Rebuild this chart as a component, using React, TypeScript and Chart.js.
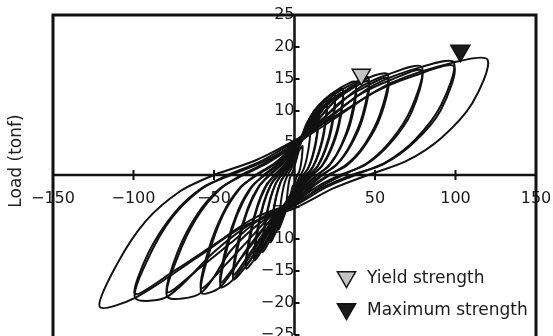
import React, { useEffect, useRef } from "react";
import { Chart, registerables } from "chart.js";

Chart.register(...registerables);

// ---- data (displacement mm, load tonf) ----
const xTickValues = [-150, -100, -50, 0, 50, 100, 150];
const yTickValues = [-25, -20, -15, -10, -5, 0, 5, 10, 15, 20, 25];

const loop05 = [[-2.1,0],[-1,0.6],[0,1.4],[1.3,2.5],[2.5,3.6],[3.8,4.2],[5,4.5],[4.6,2.8],[3.8,1.4],[2.9,0.5],[1.9,0],[1,-0.5],[0,-1.3],[-1.3,-1.9],[-2.5,-3.1],[-3.8,-4.2],[-5,-5],[-4.6,-3.4],[-3.9,-1.8],[-3,-0.6],[-2.1,0]];
const loop10 = [[-4.2,0],[-2,1],[0,2.4],[2.5,4.4],[5,6.4],[7.5,7.5],[10,8],[9.2,5],[7.6,2.6],[5.8,1],[3.8,0],[2,-0.9],[0,-2.1],[-2.5,-3.2],[-5,-5.3],[-7.5,-7.1],[-10,-8.5],[-9.2,-5.8],[-7.7,-3],[-5.9,-1],[-4.2,0]];
const loop15a = [[-6.3,0],[-3,1.3],[0,3],[3.8,5.5],[7.5,8],[11.3,9.4],[15,10],[13.8,6.2],[11.4,3.2],[8.7,1.2],[5.7,0],[3,-1.1],[0,-2.6],[-3.8,-4],[-7.5,-6.5],[-11.3,-8.8],[-15,-10.5],[-13.8,-7.1],[-11.6,-3.7],[-8.9,-1.3],[-6.3,0]];
const loop15b = [[-6,0],[-3,1.1],[0,2.7],[3.8,4.9],[7.5,7.2],[11.3,8.6],[15,9.5],[13.8,5.7],[11.3,2.9],[8.4,1],[5.4,0],[2.7,-1],[0,-2.3],[-3.8,-3.6],[-7.5,-5.8],[-11.3,-8],[-15,-10],[-13.8,-6.6],[-11.4,-3.3],[-8.7,-1.1],[-6,0]];
const loop20a = [[-8.4,0],[-4,1.5],[0,3.5],[5,6.3],[10,9.2],[15,10.8],[20,11.5],[18.4,7.1],[15.2,3.7],[11.6,1.4],[7.6,0],[4,-1.2],[0,-3],[-5,-4.6],[-10,-7.4],[-15,-10.1],[-20,-12],[-18.4,-8.2],[-15.4,-4.2],[-11.8,-1.4],[-8.4,0]];
const loop20b = [[-8,0],[-4,1.3],[0,3.1],[5,5.7],[10,8.4],[15,10],[20,11],[18.4,6.6],[15,3.3],[11.2,1.1],[7.2,0],[3.6,-1.2],[0,-2.6],[-5,-4.1],[-10,-6.7],[-15,-9.2],[-20,-11.5],[-18.4,-7.6],[-15.2,-3.8],[-11.6,-1.3],[-8,0]];
const loop25a = [[-10.5,0],[-5,1.6],[0,3.8],[6.3,6.9],[12.5,10.1],[18.8,11.8],[25,12.6],[23,7.8],[19,4],[14.5,1.5],[9.5,0],[5,-1.3],[0,-3.3],[-6.3,-5.1],[-12.5,-8.2],[-18.8,-11.2],[-25,-13.3],[-23,-9],[-19.3,-4.7],[-14.8,-1.6],[-10.5,0]];
const loop25b = [[-10,0],[-5,1.4],[0,3.4],[6.3,6.2],[12.5,9.1],[18.8,10.9],[25,12],[23,7.2],[18.8,3.6],[14,1.2],[9,0],[4.5,-1.3],[0,-2.9],[-6.3,-4.6],[-12.5,-7.4],[-18.8,-10.2],[-25,-12.7],[-23,-8.4],[-19,-4.2],[-14.5,-1.4],[-10,0]];
const loop30a = [[-12.6,0],[-6,1.7],[0,4],[7.5,7.4],[15,10.7],[22.5,12.6],[30,13.4],[27.6,8.3],[22.8,4.3],[17.4,1.6],[11.4,0],[6,-1.5],[0,-3.7],[-7.5,-5.5],[-15,-9.1],[-22.5,-12.3],[-30,-14.6],[-27.6,-9.9],[-23.1,-5.1],[-17.7,-1.8],[-12.6,0]];
const loop30b = [[-12,0],[-6,1.5],[0,3.6],[7.5,6.7],[15,9.7],[22.5,11.6],[30,12.8],[27.6,7.7],[22.5,3.8],[16.8,1.3],[10.8,0],[5.4,-1.4],[0,-3.2],[-7.5,-5],[-15,-8.1],[-22.5,-11.2],[-30,-14],[-27.6,-9.2],[-22.8,-4.6],[-17.4,-1.5],[-12,0]];
const loop38a = [[-16,0],[-7.6,1.9],[0,4.4],[9.5,8],[19,11.6],[28.5,13.6],[38,14.5],[35,9],[28.9,4.6],[22,1.7],[14.4,0],[7.6,-1.6],[0,-4.1],[-9.5,-6.2],[-19,-10.1],[-28.5,-13.7],[-38,-16.3],[-35,-11.1],[-29.3,-5.7],[-22.4,-2],[-16,0]];
const loop38b = [[-15.2,0],[-7.6,1.7],[0,3.9],[9.5,7.2],[19,10.6],[28.5,12.6],[38,13.9],[35,8.3],[28.5,4.2],[21.3,1.4],[13.7,0],[6.8,-1.6],[0,-3.6],[-9.5,-5.6],[-19,-9],[-28.5,-12.5],[-38,-15.6],[-35,-10.3],[-28.9,-5.1],[-22,-1.7],[-15.2,0]];
const loop46a = [[-19.3,0],[-9.2,2],[0,4.6],[11.5,8.4],[23,12.2],[38,14.5],[46,15.2],[42.3,9.4],[35,4.9],[26.7,1.8],[17.5,0],[9.2,-1.8],[0,-4.4],[-11.5,-6.7],[-23,-10.9],[-38,-16.3],[-46,-17.5],[-42.3,-11.9],[-35.4,-6.1],[-27.1,-2.1],[-19.3,0]];
const loop46b = [[-18.4,0],[-9.2,1.8],[0,4.1],[11.5,7.6],[23,11.1],[34.5,13.3],[46,14.6],[42.3,8.8],[34.5,4.4],[25.8,1.5],[16.6,0],[8.3,-1.7],[0,-3.9],[-11.5,-6],[-23,-9.7],[-34.5,-13.4],[-46,-16.8],[-42.3,-11.1],[-35,-5.5],[-26.7,-1.8],[-18.4,0]];
const loop58a = [[-24.4,0],[-11.6,2],[0,4.7],[14.5,8.6],[29,12.6],[46,15.2],[58,15.7],[53.4,9.7],[44.1,5],[33.6,1.9],[22,0],[11.6,-1.8],[0,-4.6],[-14.5,-7],[-29,-11.4],[-46,-17.5],[-58,-18.4],[-53.4,-12.5],[-44.7,-6.4],[-34.2,-2.2],[-24.4,0]];
const loop58b = [[-23.2,0],[-11.6,1.8],[0,4.2],[14.5,7.9],[29,11.5],[43.5,13.7],[58,15.1],[53.4,9.1],[43.5,4.5],[32.5,1.5],[20.9,0],[10.4,-1.8],[0,-4.1],[-14.5,-6.4],[-29,-10.3],[-43.5,-14.2],[-58,-17.7],[-53.4,-11.7],[-44.1,-5.8],[-33.6,-1.9],[-23.2,0]];
const loop79a = [[-33.2,0],[-15.8,2.2],[0,5.1],[19.8,9.3],[39.5,13.5],[58,15.7],[79,16.9],[72.7,10.5],[60,5.4],[45.8,2],[30,0],[15.8,-1.9],[0,-4.8],[-19.8,-7.2],[-39.5,-11.8],[-58,-18.4],[-79,-19],[-72.7,-12.9],[-60.8,-6.7],[-46.6,-2.3],[-33.2,0]];
const loop79b = [[-31.6,0],[-15.8,2],[0,4.6],[19.8,8.5],[39.5,12.4],[59.3,14.8],[79,16.3],[72.7,9.8],[59.3,4.9],[44.2,1.6],[28.4,0],[14.2,-1.8],[0,-4.2],[-19.8,-6.6],[-39.5,-10.6],[-59.3,-14.6],[-79,-18.3],[-72.7,-12.1],[-60,-6],[-45.8,-2],[-31.6,0]];
const loop99a = [[-41.6,0],[-19.8,2.3],[0,5.3],[24.8,9.7],[49.5,14.1],[79,16.9],[99,17.6],[91,10.9],[75.2,5.6],[57.4,2.1],[37.6,0],[19.8,-1.9],[0,-4.8],[-24.8,-7.3],[-49.5,-11.9],[-79,-19],[-99,-19.2],[-91,-13.1],[-76.2,-6.7],[-58.4,-2.3],[-41.6,0]];
const loop99b = [[-39.6,0],[-19.8,2],[0,4.8],[24.8,8.8],[49.5,12.9],[74.3,15.5],[99,17],[91,10.2],[74.3,5.1],[55.4,1.7],[35.6,0],[17.8,-1.9],[0,-4.3],[-24.8,-6.7],[-49.5,-10.8],[-74.3,-14.9],[-99,-18.6],[-91,-12.3],[-75.2,-6.1],[-57.4,-2],[-39.6,0]];
const loop120 = [[-50.4,0],[-24,2.3],[0,5.4],[30,9.9],[60,14.4],[99,17.6],[120,18],[110.4,11.2],[91.2,5.8],[69.6,2.2],[45.6,0],[24,-2.1],[0,-5.2],[-30,-7.8],[-60,-12.8],[-99,-19.2],[-121,-20.6],[-110.4,-14],[-92.4,-7.2],[-70.8,-2.5],[-50.4,0]];

const loops = [loop05, loop10, loop15a, loop15b, loop20a, loop20b, loop25a, loop25b, loop30a, loop30b, loop38a, loop38b, loop46a, loop46b, loop58a, loop58b, loop79a, loop79b, loop99a, loop99b, loop120];

const yieldPoint = [41.5, 15.7];
const maxPoint = [103, 19.4];
const markerLabels = ["Yield strength", "Maximum strength"];
const markerFills = ["#c4c4c4", "#1a1a1a"];

const FONT = "'DejaVu Sans', sans-serif";

function fmtTick(v: number): string {
  if (v === 0) return "";
  return v < 0 ? "\u2212" + Math.abs(v) : String(v);
}

function tri(ctx: CanvasRenderingContext2D, cx: number, cy: number, r: number, fill: string) {
  ctx.beginPath();
  ctx.moveTo(cx - r * 0.866, cy - r / 2);
  ctx.lineTo(cx + r * 0.866, cy - r / 2);
  ctx.lineTo(cx, cy + r);
  ctx.closePath();
  ctx.fillStyle = fill;
  ctx.fill();
  ctx.lineWidth = 1.5;
  ctx.strokeStyle = "#111";
  ctx.stroke();
}

const framePlugin = {
  id: "framePlugin",
  beforeDatasetsDraw(chart: any) {
    const { ctx, chartArea: a, scales } = chart;
    const x0 = scales.x.getPixelForValue(0);
    const y0 = scales.y.getPixelForValue(0);
    ctx.save();
    ctx.strokeStyle = "#111";
    ctx.lineWidth = 2.5;
    ctx.beginPath();
    ctx.moveTo(a.left, y0);
    ctx.lineTo(a.right, y0);
    ctx.moveTo(x0, a.top);
    ctx.lineTo(x0, a.bottom);
    ctx.stroke();
    ctx.lineWidth = 2;
    ctx.beginPath();
    for (const v of xTickValues) {
      if (v === 0) continue;
      const px = scales.x.getPixelForValue(v);
      ctx.moveTo(px, y0 - 5);
      ctx.lineTo(px, y0 + 5);
    }
    for (const v of yTickValues) {
      if (v === 0) continue;
      const py = scales.y.getPixelForValue(v);
      ctx.moveTo(x0, py);
      ctx.lineTo(x0 + 5, py);
    }
    ctx.stroke();
    ctx.restore();
  },
  afterDraw(chart: any) {
    const { ctx, chartArea: a } = chart;
    ctx.save();
    ctx.strokeStyle = "#111";
    ctx.lineWidth = 3;
    ctx.strokeRect(a.left, a.top, a.right - a.left, a.bottom - a.top + 4);
    // y axis title
    ctx.fillStyle = "#222";
    ctx.font = "17px " + FONT;
    ctx.textAlign = "center";
    ctx.textBaseline = "middle";
    ctx.translate(17, 161);
    ctx.rotate(-Math.PI / 2);
    ctx.fillText("Load (tonf)", 0, 0);
    ctx.restore();
    // legend
    ctx.save();
    const items = [
      { y: 278, label: markerLabels[0], fill: markerFills[0] },
      { y: 310, label: markerLabels[1], fill: markerFills[1] },
    ];
    for (const it of items) {
      tri(ctx, 346.5, it.y - 1, 10.5, it.fill);
      ctx.fillStyle = "#1a1a1a";
      ctx.font = "17px " + FONT;
      ctx.textAlign = "left";
      ctx.textBaseline = "middle";
      ctx.fillText(it.label, 367, it.y + 1);
    }
    ctx.restore();
  },
};

export default function App() {
  const ref = useRef<HTMLCanvasElement | null>(null);
  useEffect(() => {
    if (!ref.current) return;
    const datasets: any[] = loops.map((lp, i) => ({
      label: "cycle" + i,
      data: lp.map(([x, y]) => ({ x, y })),
      showLine: true,
      borderColor: "#111",
      borderWidth: 2,
      pointRadius: 0,
      tension: 0.3,
      fill: false,
      order: 1,
    }));
    datasets.push({
      label: markerLabels[0],
      data: [{ x: yieldPoint[0], y: yieldPoint[1] }],
      pointStyle: "triangle",
      rotation: 180,
      pointRadius: 10.5,
      backgroundColor: markerFills[0],
      borderColor: "#111",
      borderWidth: 1.5,
      showLine: false,
      order: -1,
      clip: false,
    });
    datasets.push({
      label: markerLabels[1],
      data: [{ x: maxPoint[0], y: maxPoint[1] }],
      pointStyle: "triangle",
      rotation: 180,
      pointRadius: 11,
      backgroundColor: markerFills[1],
      borderColor: "#111",
      borderWidth: 1.5,
      showLine: false,
      order: -1,
      clip: false,
    });
    const chart = new Chart(ref.current, {
      type: "scatter",
      data: { datasets },
      options: {
        animation: false,
        responsive: false,
        layout: { padding: { left: 53, right: 22, top: 15, bottom: 15 } },
        plugins: { legend: { display: false }, tooltip: { enabled: false } },
        scales: {
          x: {
            type: "linear",
            min: -150,
            max: 150,
            position: { y: 0 } as any,
            afterBuildTicks: (s: any) => {
              s.ticks = xTickValues.map((v) => ({ value: v }));
            },
            ticks: {
              autoSkip: false,
              maxRotation: 0,
              padding: 6,
              color: "#1a1a1a",
              font: { family: FONT, size: 16 },
              callback: (v: any) => fmtTick(Number(v)),
            },
            grid: { display: false },
            border: { display: false },
          },
          y: {
            type: "linear",
            min: -25,
            max: 25,
            position: { x: 0 } as any,
            afterBuildTicks: (s: any) => {
              s.ticks = yTickValues.map((v) => ({ value: v }));
            },
            ticks: {
              autoSkip: false,
              padding: 4,
              color: "#1a1a1a",
              font: { family: FONT, size: 16 },
              callback: (v: any) => fmtTick(Number(v)),
            },
            grid: { display: false },
            border: { display: false },
          },
        },
      },
      plugins: [framePlugin],
    });
    return () => chart.destroy();
  }, []);
  return (
    <div style={{ position: "fixed", left: 0, top: 0, width: 553, height: 336, overflow: "hidden", background: "#fff" }}>
      <canvas ref={ref} width={558} height={350} style={{ display: "block" }} />
    </div>
  );
}
